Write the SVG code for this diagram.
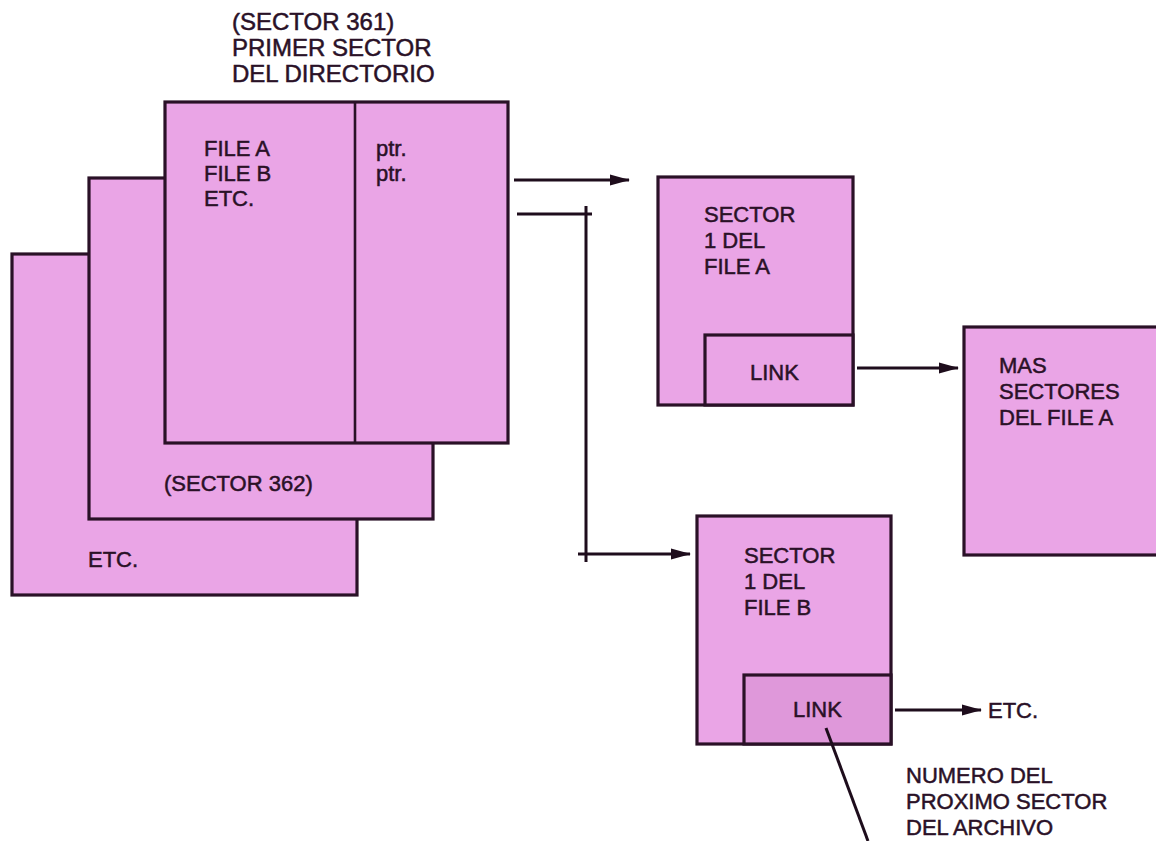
<svg xmlns="http://www.w3.org/2000/svg" width="1156" height="841" viewBox="0 0 1156 841">
<style>
.box{fill:#eaa5e6;stroke:#2a1127;stroke-width:3.2}
.subd{fill:#df98da;stroke:#2a1127;stroke-width:3.2}
.ln{fill:none;stroke:#1e0d1c;stroke-width:3}
.t{font-family:"Liberation Sans",Arial,sans-serif;font-size:22px;fill:#2a1127;stroke:#2a1127;stroke-width:0.5}
.h{font-size:24px}
</style>
<defs>
<marker id="ah" markerUnits="userSpaceOnUse" markerWidth="20" markerHeight="12" refX="19" refY="6" orient="auto">
<path d="M0,0.5 L20,6 L0,11.5 Z" fill="#1e0d1c"/>
</marker>
</defs>
<rect width="1156" height="841" fill="#ffffff"/>
<g id="title">
<text class="t h" x="232" y="30">(SECTOR 361)</text>
<text class="t h" x="232" y="56">PRIMER SECTOR</text>
<text class="t h" x="232" y="82">DEL DIRECTORIO</text>
</g>
<g id="sector-etc">
<rect class="box" x="12" y="254" width="345" height="341"/>
<text class="t" x="88" y="567">ETC.</text>
</g>
<g id="sector-362">
<rect class="box" x="89" y="178" width="344" height="341"/>
<text class="t" x="164" y="491">(SECTOR 362)</text>
</g>
<g id="sector-361">
<rect class="box" x="165" y="102" width="343" height="341"/>
<line x1="355" y1="102" x2="355" y2="443" stroke="#2a1127" stroke-width="2.6"/>
<text class="t" x="204" y="156">FILE A</text>
<text class="t" x="204" y="181">FILE B</text>
<text class="t" x="204" y="206">ETC.</text>
<text class="t" x="376" y="156">ptr.</text>
<text class="t" x="376" y="181">ptr.</text>
</g>
<g id="file-a">
<rect class="box" x="658" y="177" width="195" height="228"/>
<rect class="box" x="705" y="335" width="148" height="70"/>
<text class="t" x="704" y="222">SECTOR</text>
<text class="t" x="704" y="248">1 DEL</text>
<text class="t" x="704" y="274">FILE A</text>
<text class="t" x="750" y="380">LINK</text>
</g>
<g id="mas-sectores">
<rect class="box" x="964" y="327" width="200" height="228"/>
<text class="t" x="999" y="373">MAS</text>
<text class="t" x="999" y="399">SECTORES</text>
<text class="t" x="999" y="425">DEL FILE A</text>
</g>
<g id="file-b">
<rect class="box" x="697" y="516" width="194" height="228"/>
<rect class="subd" x="744" y="675" width="147" height="69"/>
<text class="t" x="744" y="563">SECTOR</text>
<text class="t" x="744" y="589">1 DEL</text>
<text class="t" x="744" y="615">FILE B</text>
<text class="t" x="793" y="717">LINK</text>
</g>
<g id="etc-b">
<text class="t" x="988" y="718">ETC.</text>
</g>
<g id="note">
<text class="t" x="906" y="783">NUMERO DEL</text>
<text class="t" x="906" y="809">PROXIMO SECTOR</text>
<text class="t" x="906" y="835">DEL ARCHIVO</text>
</g>
<g id="connectors">
<line class="ln" x1="514" y1="180" x2="629" y2="180" marker-end="url(#ah)"/>
<line class="ln" x1="517" y1="214" x2="592" y2="214"/>
<line class="ln" x1="586" y1="206" x2="586" y2="562"/>
<line class="ln" x1="578" y1="554" x2="690" y2="554" marker-end="url(#ah)"/>
<line class="ln" x1="857" y1="368" x2="958" y2="368" marker-end="url(#ah)"/>
<line class="ln" x1="895" y1="710" x2="981" y2="710" marker-end="url(#ah)"/>
<line class="ln" stroke-width="1.6" x1="826" y1="728" x2="868" y2="841"/>
</g>
</svg>
